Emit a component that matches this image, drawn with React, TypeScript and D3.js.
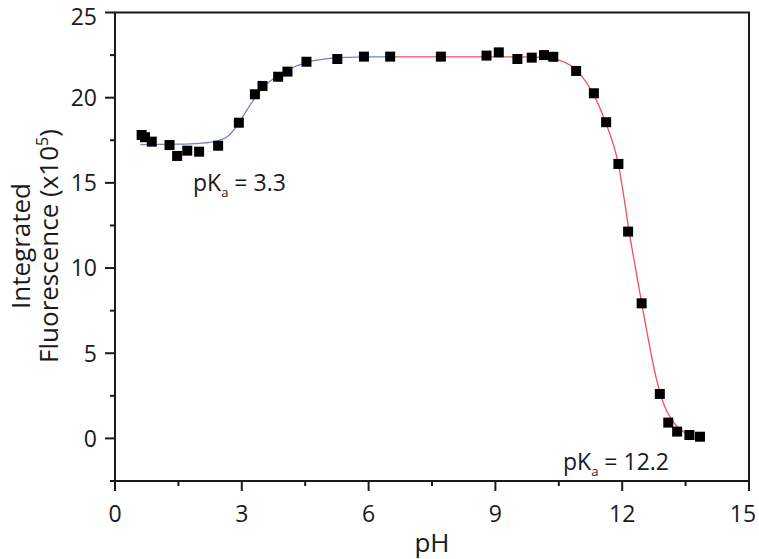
import React from "react";
import * as d3 from "d3";

// Measured points
const phValues = [0.63, 0.71, 0.87, 1.29, 1.47, 1.71, 1.99, 2.44, 2.93, 3.31, 3.49, 3.86, 4.08, 4.53, 5.26, 5.89, 6.51, 7.71, 8.79, 9.08, 9.52, 9.86, 10.15, 10.37, 10.91, 11.33, 11.62, 11.91, 12.14, 12.46, 12.89, 13.09, 13.3, 13.59, 13.84];
const fluorValues = [17.81, 17.68, 17.42, 17.22, 16.58, 16.89, 16.83, 17.18, 18.53, 20.2, 20.69, 21.23, 21.53, 22.11, 22.27, 22.41, 22.41, 22.41, 22.47, 22.66, 22.27, 22.35, 22.5, 22.4, 21.57, 20.26, 18.56, 16.11, 12.14, 7.93, 2.61, 0.93, 0.4, 0.2, 0.1];

// Fit curves
const blueFitX = [0.6, 1.5, 2.0, 2.4, 2.7, 2.93, 3.1, 3.3, 3.5, 3.8, 4.1, 4.5, 5.0, 5.5, 6.0, 6.5];
const blueFitY = [17.25, 17.27, 17.32, 17.45, 17.8, 18.5, 19.2, 19.95, 20.6, 21.2, 21.65, 22.05, 22.28, 22.37, 22.4, 22.4];
const redFitX = [6.5, 8.0, 9.5, 10.0, 10.5, 11.0, 11.3, 11.6, 11.9, 12.2, 12.5, 12.8, 13.0, 13.2, 13.5, 13.9];
const redFitY = [22.4, 22.4, 22.4, 22.38, 22.2, 21.4, 20.3, 18.6, 16.2, 11.6, 7.4, 3.6, 1.9, 1.0, 0.3, -0.15];

const xTicks = [0, 3, 6, 9, 12, 15];
const yTicks = [0, 5, 10, 15, 20, 25];

const W = 759;
const H = 559;
const left = 115, right = 749, top = 12.5, bottom = 481;
const FONT = "'Open Sans', 'Noto Sans', sans-serif";

export default function App() {
  const x = d3.scaleLinear().domain([0, 15]).range([left, right]);
  const y = d3.scaleLinear().domain([-2.5, 25]).range([bottom, top]);
  const line = d3.line<[number, number]>().x(d => x(d[0])).y(d => y(d[1])).curve(d3.curveMonotoneX);
  const blue = line(blueFitX.map((v, i) => [v, blueFitY[i]]) as [number, number][]) || "";
  const red = line(redFitX.map((v, i) => [v, redFitY[i]]) as [number, number][]) || "";
  const xMinor = d3.range(1.5, 15, 3);
  const yMinor = d3.range(-2.5, 25, 5);
  const sq = 10;
  return (
    <svg width={W} height={H} style={{ position: "absolute", left: 0, top: 0, background: "#fff" }} fontFamily={FONT}>
      <rect x={0} y={0} width={W} height={H} fill="#fff" />
      {/* frame */}
      <rect x={left} y={top} width={right - left} height={bottom - top} fill="none" stroke="#1a1a1a" strokeWidth={2} />
      {/* y ticks */}
      {yTicks.map(t => (
        <g key={"y" + t}>
          <line x1={left - 10} x2={left} y1={y(t)} y2={y(t)} stroke="#1a1a1a" strokeWidth={2} />
          <text x={left - 18} y={Math.max(y(t), 17)} dy="0.36em" textAnchor="end" fontSize={23} fill="#1a1a1a">{t}</text>
        </g>
      ))}
      {yMinor.map(t => (
        <line key={"ym" + t} x1={left - 5} x2={left} y1={y(t)} y2={y(t)} stroke="#1a1a1a" strokeWidth={2} />
      ))}
      {/* x ticks */}
      {xTicks.map(t => (
        <g key={"x" + t}>
          <line x1={x(t)} x2={x(t)} y1={bottom} y2={bottom + 10} stroke="#1a1a1a" strokeWidth={2} />
          <text x={Math.min(x(t), 743)} y={bottom + 41} textAnchor="middle" fontSize={23} fill="#1a1a1a">{t}</text>
        </g>
      ))}
      {xMinor.map(t => (
        <line key={"xm" + t} x1={x(t)} x2={x(t)} y1={bottom} y2={bottom + 5} stroke="#1a1a1a" strokeWidth={2} />
      ))}
      {/* fits */}
      <path d={blue} fill="none" stroke="#7480c8" strokeWidth={1.3} />
      <path d={red} fill="none" stroke="#f0505c" strokeWidth={1.3} />
      {/* points */}
      {phValues.map((v, i) => (
        <rect key={"p" + i} x={x(v) - sq / 2} y={y(fluorValues[i]) - sq / 2} width={sq} height={sq} fill="#000" />
      ))}
      {/* annotations */}
      <text x={193} y={191} fontSize={23} fill="#1a1a1a">
        pK<tspan fontSize={13} dy={6}>a</tspan><tspan dy={-6}> = 3.3</tspan>
      </text>
      <text x={563} y={470} fontSize={23} fill="#1a1a1a">
        pK<tspan fontSize={13} dy={6}>a</tspan><tspan dy={-6}> = 12.2</tspan>
      </text>
      {/* axis titles */}
      <text x={432} y={552} textAnchor="middle" fontSize={26} fill="#1a1a1a">pH</text>
      <g transform={`translate(0, 246) rotate(-90)`}>
        <text x={0} y={30} textAnchor="middle" fontSize={26} fill="#1a1a1a">Integrated</text>
        <text x={0} y={58} textAnchor="middle" fontSize={26} fill="#1a1a1a">
          Fluorescence (x10<tspan fontSize={16} dy={-10}>5</tspan><tspan dy={10}>)</tspan>
        </text>
      </g>
    </svg>
  );
}
